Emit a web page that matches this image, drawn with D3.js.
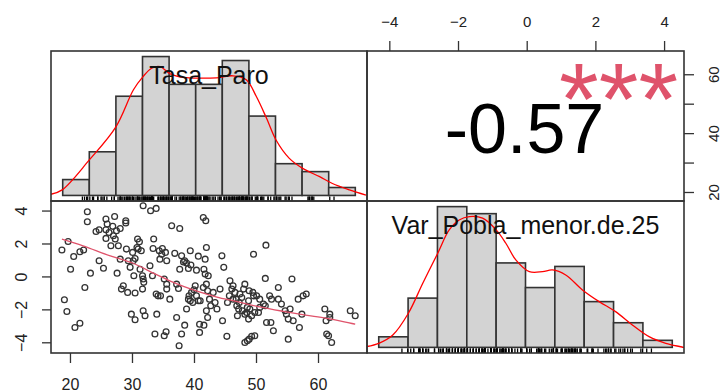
<!DOCTYPE html>
<html>
<head>
<meta charset="utf-8">
<script src="https://cdnjs.cloudflare.com/ajax/libs/d3/7.8.5/d3.min.js"></script>
<style>
  body { margin: 0; background: #fff; }
  svg { display: block; font-family: "Liberation Sans", Arial, sans-serif; }
</style>
</head>
<body>
<svg id="chart" width="721" height="392"></svg>
<script>

// variable names on the diagonal
const varNames = ["Tasa_Paro", "Var_Pobla_menor.de.25"];

// observations: [Tasa_Paro, Var_Pobla_menor.de.25]
const points = [
  [18.7, 1.60], [19.7, 2.12], [19.1, -1.42], [19.5, -2.13],
  [20.1, 0.44], [20.8, -3.10], [21.6, -2.84], [20.6, 1.21], [21.6, 1.50], [22.4, -0.67],
  [22.2, 1.60], [22.8, 3.93], [22.8, 3.32], [23.3, 0.20], [24.2, 2.73], [24.7, 0.95], [24.7, 2.83],
  [25.4, 0.50], [25.8, 3.48], [26.0, 3.18], [25.8, 2.83], [25.8, 2.31], [26.3, 2.67], [26.6, 1.86],
  [27.2, 3.64], [27.0, 2.47], [26.9, 3.04], [27.3, 2.27], [27.5, 2.77], [27.8, 1.86], [28.1, 1.05],
  [27.6, 0.20], [28.1, 2.91], [28.3, -0.77], [28.6, -0.57], [29.0, 3.38], [29.0, 3.24], [29.3, -0.97],
  [29.1, 1.66], [29.4, 0.95], [29.7, 0.55], [29.9, -2.29],
  [30.1, 1.46], [30.2, 0.95], [30.3, 0.04], [30.5, -1.01], [30.5, -2.63], [30.5, 1.09], [30.8, 1.76],
  [30.9, 2.27], [31.0, 1.66], [31.2, 2.10], [31.3, 0.44], [31.5, 1.56], [31.7, 0.04], [31.8, -0.16],
  [31.9, -0.36], [31.7, -0.77], [31.8, -2.08], [32.1, -2.39], [31.8, 4.29], [33.0, 3.99], [33.9, 4.13],
  [33.5, 2.27], [33.4, 1.70], [32.9, 0.65], [33.3, 0.04], [33.9, -1.07], [34.2, -1.18], [34.6, -1.18],
  [34.0, -2.29], [33.7, -3.50], [34.4, 1.56], [34.8, 1.35], [34.5, 1.05], [34.9, 1.70],
  [35.4, 1.46], [35.6, 0.95], [35.2, -0.16], [35.6, -0.47], [35.6, -0.77], [36.1, -1.38], [35.5, -3.36],
  [35.2, -3.60], [36.4, 3.08], [37.7, 2.91], [36.9, 1.40], [40.7, 1.23], [38.0, 1.25], [38.3, 0.88],
  [38.5, 0.95], [38.8, 0.81], [39.4, 1.56], [39.5, 0.69], [37.7, 0.44], [37.2, -0.47], [37.5, -0.73],
  [37.2, -2.49], [37.6, -4.21], [38.0, -3.50], [38.5, -2.96], [38.8, -1.98], [39.1, -1.38], [39.2, -1.18],
  [39.4, -1.48], [39.6, -0.97], [39.8, -1.58], [40.4, 0.38], [39.1, 0.48],
  [40.0, -0.81], [40.2, -0.57], [40.4, -1.18], [40.7, -1.48], [41.0, -1.48], [41.5, -0.67], [41.5, 3.58],
  [41.9, 3.38], [42.0, 1.76], [41.8, 1.05], [41.6, 0.44], [41.8, 0.14], [42.3, 0.04], [42.0, -0.47],
  [42.2, -0.87], [40.9, -2.90], [40.9, -3.40], [41.6, -2.96], [42.0, -2.08], [42.2, -2.49], [42.5, -1.38],
  [42.7, -1.78], [43.1, -0.97], [43.4, -1.58], [43.7, -1.98], [44.2, -0.77], [44.5, 1.25], [44.8, 0.55],
  [44.6, -2.69],
  [45.3, -3.64], [45.4, -1.58], [45.7, -1.18], [45.8, -0.27], [46.1, -0.77], [46.3, -0.57], [46.6, -0.97],
  [46.8, -1.38], [47.0, -2.39], [47.2, -1.98], [47.4, -1.07], [47.7, -1.28], [48.0, -0.77], [48.2, -0.47],
  [48.5, -2.19], [48.6, -1.88], [48.8, -2.59], [48.2, -4.01], [48.6, -3.91], [48.9, -3.81], [49.3, -3.64],
  [49.6, 1.35], [49.8, -3.60], [49.6, -1.18], [46.3, -1.38], [46.9, -1.78], [47.3, -1.58], [47.8, -2.08],
  [48.2, -2.29], [48.8, -1.48], [49.0, -1.98], [49.3, -2.39], [49.5, -0.97], [49.8, -2.19], [48.9, -0.87],
  [50.1, -1.18], [50.4, -2.19], [50.6, -1.88], [50.6, -1.38], [51.2, -1.68], [51.5, -1.78], [51.6, 1.90],
  [51.5, -0.12], [51.7, -2.80], [52.2, -1.18], [52.5, -1.38], [52.4, -2.80], [52.8, -3.30], [53.6, -0.67],
  [53.6, -1.38], [54.1, -1.68], [54.7, -2.08], [54.9, -2.29],
  [55.2, -2.59], [55.5, -1.98], [55.8, -0.16], [56.0, -2.69], [55.2, -3.81], [56.8, -1.38], [57.0, -3.10],
  [57.4, -2.29], [57.6, -1.18], [58.1, -1.07],
  [61.1, -1.98], [61.3, -2.69], [61.4, -3.50], [61.7, -3.60], [61.9, -2.29], [62.2, -4.01], [61.9, -2.49],
  [65.2, -2.08], [66.0, -2.39]
];

// histograms (breaks + counts)
const tasaBreaks = [15, 20, 25, 30, 35, 40, 45, 50, 55, 60, 65, 70];
const tasaCounts = [4, 11, 25, 35, 28, 28, 34, 20, 8, 6, 2];
const pobBreaks = [-5, -4, -3, -2, -1, 0, 1, 2, 3, 4, 5];
const pobCounts = [3, 14, 40, 38, 24, 17, 23, 13, 7, 2];

// kernel density curves
const tasaDensX = [12.8, 14.9, 20, 25, 28.3, 30.1, 31.7, 33.3, 35.2, 37.7, 40.8, 43.9, 47, 49.5, 51.4, 53.3, 55.1, 57.6, 60.1, 63.3, 65.7, 68.9, 72];
const tasaDensY = [0.0003, 0.0014, 0.0089, 0.0172, 0.0265, 0.0298, 0.0319, 0.0323, 0.0305, 0.0296, 0.0294, 0.0295, 0.0300, 0.0290, 0.0248, 0.0194, 0.0139, 0.0093, 0.0068, 0.0047, 0.0030, 0.0014, 0.0001];
const pobDensX = [-5.43, -5, -4.52, -3.99, -3.5, -2.99, -2.6, -2.26, -1.91, -1.46, -1, -0.67, -0.33, 0.13, 0.58, 0.92, 1.37, 1.94, 2.51, 3.07, 3.64, 4.21, 4.78, 5.4];
const pobDensY = [0.0011, 0.0064, 0.0195, 0.0536, 0.1007, 0.1478, 0.1844, 0.2001, 0.2053, 0.2028, 0.1844, 0.1635, 0.1373, 0.1189, 0.1189, 0.1216, 0.1137, 0.0902, 0.0718, 0.0561, 0.0352, 0.0168, 0.0064, 0.0];

// lowess smoother in the scatter panel
const smoothX = [18.7, 22.1, 26.5, 30.2, 33.7, 36, 38.3, 41, 43.7, 46.6, 50.6, 54.4, 58, 61.4, 66.0];
const smoothY = [2.27, 1.86, 1.25, 0.80, 0.15, -0.25, -0.6, -0.95, -1.25, -1.5, -1.85, -2.12, -2.35, -2.55, -2.9];

// correlation
const corrText = "-0.57";
const corrStars = "***";

// axes
const tasaLim = [16.94, 67.9];
const pobLim = [-4.65, 4.58];
const tasaTicks = [20, 30, 40, 50, 60];
const tasaRightLabels = ["20", "", "40", "", "60"];
const pobTicks = [-4, -2, 0, 2, 4];


let svg = d3.select("#chart");
let colX = [[51, 367], [367, 684]];
let rowY = [[51, 201], [201, 353]];
let boxColor = "#333";

function ext4(a, b) {
  let d = (b - a) * 0.04;
  return [a - d, b + d];
}

// clip every panel
let defs = svg.append("defs");
for (let r = 0; r < 2; r++) {
  for (let c = 0; c < 2; c++) {
    defs.append("clipPath").attr("id", "clip" + r + c)
      .append("rect")
        .attr("x", colX[c][0]).attr("y", rowY[r][0])
        .attr("width", colX[c][1] - colX[c][0])
        .attr("height", rowY[r][1] - rowY[r][0]);
  }
}

function drawHist(r, c, breaks, counts, densX, densY, rugVals, label) {
  let x0 = colX[c][0], x1 = colX[c][1], y0 = rowY[r][0], y1 = rowY[r][1];
  let n = d3.sum(counts);
  let dens = counts.map((k, i) => k / (n * (breaks[i + 1] - breaks[i])));
  let hx = d3.scaleLinear().domain(ext4(breaks[0], breaks[breaks.length - 1])).range([x0, x1]);
  let hy = d3.scaleLinear().domain(ext4(0, d3.max(dens))).range([y1, y0]);

  let g = svg.append("g").attr("clip-path", "url(#clip" + r + c + ")");

  g.selectAll(".bar")
    .data(dens)
    .enter().append("rect")
      .attr("class", "bar")
      .attr("x", (d, i) => hx(breaks[i]))
      .attr("width", (d, i) => hx(breaks[i + 1]) - hx(breaks[i]))
      .attr("y", (d) => hy(d))
      .attr("height", (d) => hy(0) - hy(d))
      .attr("fill", "#d3d3d3")
      .attr("stroke", "#333")
      .attr("stroke-width", 1.6);

  let line = d3.line()
    .x((d, i) => hx(densX[i]))
    .y((d, i) => hy(densY[i]))
    .curve(d3.curveCatmullRom);
  g.append("path")
    .attr("d", line(densX))
    .attr("fill", "none")
    .attr("stroke", "#ff0000")
    .attr("stroke-width", 1.3);

  let rugLen = (y1 - y0) * 0.03;
  g.selectAll(".rug")
    .data(rugVals)
    .enter().append("line")
      .attr("class", "rug")
      .attr("x1", (d) => hx(d)).attr("x2", (d) => hx(d))
      .attr("y1", y1).attr("y2", y1 - rugLen)
      .attr("stroke", "#000")
      .attr("stroke-width", 1.3);

  svg.append("text")
    .attr("x", (x0 + x1) / 2)
    .attr("y", y0 + 33)
    .attr("text-anchor", "middle")
    .attr("font-size", 25)
    .attr("fill", "#111")
    .text(label);
}

drawHist(0, 0, tasaBreaks, tasaCounts, tasaDensX, tasaDensY, points.map((p) => p[0]), varNames[0]);
drawHist(1, 1, pobBreaks, pobCounts, pobDensX, pobDensY, points.map((p) => p[1]), varNames[1]);

// scatter panel (row 2, col 1)
let sx = d3.scaleLinear().domain(tasaLim).range(colX[0]);
let sy = d3.scaleLinear().domain(pobLim).range([rowY[1][1], rowY[1][0]]);
let scat = svg.append("g").attr("clip-path", "url(#clip10)");

scat.selectAll(".pt")
  .data(points)
  .enter().append("circle")
    .attr("class", "pt")
    .attr("cx", (d) => sx(d[0]))
    .attr("cy", (d) => sy(d[1]))
    .attr("r", 2.9)
    .attr("fill", "none")
    .attr("stroke", "#333")
    .attr("stroke-width", 1.3);

scat.append("path")
  .attr("d", d3.line().x((d, i) => sx(smoothX[i])).y((d, i) => sy(smoothY[i])).curve(d3.curveCatmullRom)(smoothX))
  .attr("fill", "none")
  .attr("stroke", "#df536b")
  .attr("stroke-width", 1.3);

// correlation panel (row 1, col 2)
svg.append("text")
  .attr("x", (colX[1][0] + colX[1][1]) / 2 - 1)
  .attr("y", 153)
  .attr("text-anchor", "middle")
  .attr("font-size", 70)
  .attr("fill", "#000")
  .text(corrText);

svg.append("text")
  .attr("x", colX[1][0] + 0.8 * (colX[1][1] - colX[1][0]) - 2)
  .attr("y", 134)
  .attr("text-anchor", "middle")
  .attr("font-size", 102)
  .attr("fill", "#df536b")
  .text(corrStars);

// panel boxes
for (let r = 0; r < 2; r++) {
  for (let c = 0; c < 2; c++) {
    svg.append("rect")
      .attr("x", colX[c][0]).attr("y", rowY[r][0])
      .attr("width", colX[c][1] - colX[c][0])
      .attr("height", rowY[r][1] - rowY[r][0])
      .attr("fill", "none")
      .attr("stroke", boxColor)
      .attr("stroke-width", 1.6);
  }
}

// axes
let px = d3.scaleLinear().domain(pobLim).range(colX[1]);
let ty = d3.scaleLinear().domain(tasaLim).range([rowY[0][1], rowY[0][0]]);

function styleAxis(g) {
  g.select(".domain").remove();
  g.selectAll(".tick line").attr("stroke", "#333").attr("stroke-width", 1.3);
  g.selectAll("text").attr("fill", "#222").attr("font-size", 15)
    .attr("font-family", "Liberation Sans, Arial, sans-serif");
}

let axTop = svg.append("g")
  .attr("transform", "translate(0," + rowY[0][0] + ")")
  .call(d3.axisTop(px).tickValues(pobTicks).tickSize(10).tickFormat(d3.format("d")));
styleAxis(axTop);
axTop.selectAll("text").attr("y", -29).attr("dy", "0.35em");

let axBottom = svg.append("g")
  .attr("transform", "translate(0," + rowY[1][1] + ")")
  .call(d3.axisBottom(sx).tickValues(tasaTicks).tickSize(10).tickFormat(d3.format("d")));
styleAxis(axBottom);
axBottom.selectAll("text").attr("y", 31).attr("dy", "0.35em").attr("font-size", 16);

let axLeft = svg.append("g")
  .attr("transform", "translate(" + colX[0][0] + ",0)")
  .call(d3.axisLeft(sy).tickValues(pobTicks).tickSize(9).tickFormat(d3.format("d")));
styleAxis(axLeft);
axLeft.selectAll("text")
  .attr("x", 0).attr("y", -30).attr("dy", "0.35em")
  .attr("text-anchor", "middle")
  .attr("transform", "rotate(-90)")
  .attr("font-size", 16);

let axRight = svg.append("g")
  .attr("transform", "translate(" + colX[1][1] + ",0)")
  .call(d3.axisRight(ty).tickValues(tasaTicks).tickSize(10)
    .tickFormat((d, i) => tasaRightLabels[i]));
styleAxis(axRight);
axRight.selectAll("text")
  .attr("x", 0).attr("y", 30).attr("dy", "0.35em")
  .attr("text-anchor", "middle")
  .attr("transform", "rotate(-90)");

</script>
</body>
</html>
